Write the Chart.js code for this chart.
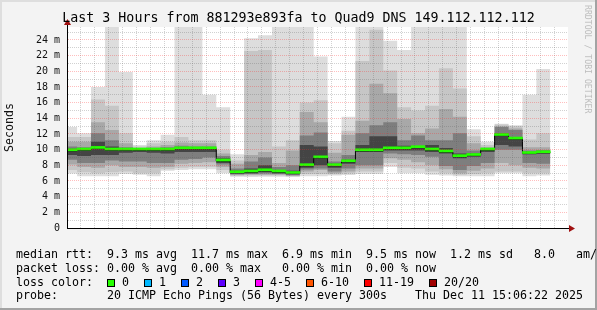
<!DOCTYPE html>
<html>
<head>
<meta charset="utf-8">
<script src="https://cdn.jsdelivr.net/npm/chart.js@4.4.0/dist/chart.umd.min.js"></script>
<style>
  html, body { margin: 0; padding: 0; background: #fff; }
  #frame {
    position: relative; width: 597px; height: 310px; overflow: hidden;
    background: #f3f3f3;
    box-shadow: inset -2px -2px 0 #a3a3a3, inset 2px 2px 0 #dedede;
    font-family: "DejaVu Sans Mono", monospace; color: #000;
  }
  #chart { position: absolute; left: 0; top: 0; }
  #title { position: absolute; left: 0; top: 10px; width: 597px; text-align: center; font-size: 13.3px; line-height: 16px; white-space: pre; }
  #brand { position: absolute; left: 593px; top: 5px; transform-origin: 0 0; transform: rotate(90deg); font-size: 8.2px; color: #bdbdbd; white-space: pre; }
  #legend { position: absolute; left: 16px; top: 248px; font-size: 11.63px; line-height: 13.8px; white-space: pre; }
  .box { display: inline-block; width: 6px; height: 6px; border: 1px solid #000; margin-right: 7px; vertical-align: -1px; }
  .lbl { margin-right: 15px; }
</style>
</head>
<body>
<div id="frame">
  <canvas id="chart" width="597" height="310"></canvas>
  <div id="title">Last 3 Hours from 881293e893fa to Quad9 DNS 149.112.112.112</div>
  <div id="brand">RRDTOOL / TOBI OETIKER</div>
  <div id="legend"></div>
</div>
<script>
// 5 minute steps, each value covers the 5 minutes before its end time
const barEnds = ['12:10','12:15','12:20','12:25','12:30','12:35','12:40','12:45','12:50','12:55',
  '13:00','13:05','13:10','13:15','13:20','13:25','13:30','13:35','13:40','13:45','13:50','13:55',
  '14:00','14:05','14:10','14:15','14:20','14:25','14:30','14:35','14:40','14:45','14:50','14:55','15:00'];

// smoke bands (ms), outermost pair first
const pingMax = [12.9, 12.1, 18.0, 25.7, 19.9, 10.6, 11.2, 11.9, 25.7, 25.7, 17.0, 15.4, 9.4, 24.2, 24.6, 25.7, 25.7, 25.7,
  21.9, 11.1, 14.2, 25.7, 25.7, 23.9, 22.7, 25.7, 25.7, 25.7, 25.7, 12.6, 11.0, 13.3, 13.1, 17.0, 20.3];
const pingHi2 = [11.6, 11.6, 16.4, 15.6, 12.1, 10.4, 10.8, 11.0, 11.6, 11.2, 11.2, 10.0, 8.6, 22.6, 22.7, 10.4, 11.2, 16.0,
  16.3, 10.8, 12.4, 21.3, 25.3, 20.1, 15.4, 15.0, 15.6, 20.4, 17.8, 11.7, 10.6, 13.2, 13.0, 11.3, 12.1];
const pingHi3 = [11.0, 11.0, 13.5, 12.5, 10.8, 10.2, 10.4, 10.6, 10.9, 10.8, 10.8, 9.5, 8.2, 9.3, 9.7, 8.3, 9.9, 14.8,
  13.5, 9.6, 11.9, 13.7, 18.4, 17.2, 13.9, 12.1, 12.7, 15.2, 14.2, 10.8, 10.3, 13.0, 12.7, 10.3, 10.3];
const pingHi4 = [10.4, 10.3, 12.1, 11.2, 10.3, 10.05, 10.2, 10.3, 10.5, 10.4, 10.4, 9.2, 7.6, 8.5, 9.0, 7.8, 8.0, 11.8,
  12.2, 8.5, 9.3, 12.1, 13.1, 13.5, 11.2, 11.8, 11.2, 11.2, 12.1, 9.9, 10.1, 12.9, 12.5, 9.9, 9.96];
const pingHi5 = [10.1, 10.1, 11.0, 10.4, 10.1, 10.0, 10.0, 10.1, 10.2, 10.2, 10.2, 8.9, 7.3, 7.6, 8.0, 7.4, 7.3, 10.6,
  10.4, 8.2, 8.7, 10.6, 11.7, 11.7, 10.5, 10.4, 10.6, 10.2, 9.5, 9.5, 10.0, 12.1, 11.6, 9.6, 9.7];
const medianRtt = [9.85, 9.95, 10.15, 9.95, 9.95, 9.95, 9.95, 9.95, 10.1, 10.1, 10.1, 8.55, 7.05, 7.15, 7.3, 7.15, 6.95, 7.95,
  8.95, 7.95, 8.45, 9.85, 9.85, 10.1, 10.1, 10.25, 9.95, 9.7, 9.1, 9.25, 9.95, 11.8, 11.35, 9.5, 9.6];
const pingLo5 = [9.3, 9.2, 9.3, 9.3, 9.6, 9.7, 9.6, 9.5, 9.7, 9.7, 9.7, 8.3, 6.95, 7.0, 7.1, 7.0, 6.85, 7.7,
  8.0, 7.7, 8.2, 9.7, 9.7, 9.9, 9.9, 9.9, 9.7, 9.5, 8.9, 9.1, 9.7, 10.6, 10.4, 9.4, 9.5];
const pingLo4 = [8.7, 8.3, 8.3, 8.6, 8.5, 8.5, 8.3, 8.3, 8.7, 8.8, 9.0, 8.1, 6.85, 6.9, 6.95, 6.9, 6.75, 7.45,
  7.6, 7.2, 7.6, 8.0, 8.0, 9.5, 9.4, 9.3, 9.1, 7.9, 7.4, 7.9, 8.3, 10.0, 10.0, 8.3, 8.2];
const pingLo3 = [8.1, 7.8, 7.7, 8.0, 7.8, 7.8, 7.7, 7.8, 8.2, 8.3, 8.4, 7.8, 6.75, 6.8, 6.8, 6.8, 6.65, 7.2,
  7.4, 7.0, 7.2, 7.6, 7.6, 8.9, 8.7, 8.4, 8.0, 7.5, 7.0, 7.3, 7.6, 8.3, 8.0, 7.7, 7.6];
const pingLo2 = [7.4, 7.1, 7.0, 7.1, 7.2, 7.0, 7.0, 7.5, 7.7, 7.8, 7.8, 7.4, 6.65, 6.7, 6.7, 6.7, 6.6, 6.9,
  6.9, 6.85, 6.95, 7.2, 7.2, 8.3, 7.7, 7.6, 7.2, 7.0, 6.8, 6.9, 7.0, 7.2, 7.2, 7.0, 7.0];
const pingMin = [6.95, 6.6, 6.6, 6.6, 6.9, 6.8, 6.6, 7.3, 7.4, 7.5, 7.5, 7.0, 6.55, 6.5, 6.55, 6.55, 6.5, 6.6,
  6.6, 6.7, 6.75, 6.9, 6.9, 7.8, 7.0, 7.0, 6.8, 6.7, 6.6, 6.6, 6.6, 7.0, 7.0, 6.6, 6.7];

const lossLabels = ['0', '1', '2', '3', '4-5', '6-10', '11-19', '20/20'];
const lossColors = ['#26ff00', '#00b8ff', '#0059ff', '#5e00ff', '#ff00ff', '#ff5500', '#ff0000', '#a10000'];

const legendLines = [
  'median rtt:  9.3 ms avg  11.7 ms max  6.9 ms min  9.5 ms now  1.2 ms sd   8.0   am/s',
  'packet loss: 0.00 % avg  0.00 % max   0.00 % min  0.00 % now',
  null,
  'probe:       20 ICMP Echo Pings (56 Bytes) every 300s    Thu Dec 11 15:06:22 2025'
];

const startMin = 12 * 60 + 6 + 22 / 60;   // graph window: last 3 hours
const endMin = startMin + 180;

function toMin(s) {
  const p = s.split(':');
  return parseInt(p[0]) * 60 + parseInt(p[1]);
}
function fmtTime(v) {
  const h = Math.floor(v / 60), m = Math.round(v % 60);
  return h + ':' + (m < 10 ? '0' : '') + m;
}

const endX = barEnds.map(toMin);
// step points: a value holds from the start of its 5 minute slot to its end
function steps(values) {
  const pts = values.map((v, i) => ({ x: endX[i] - 5, y: v }));
  pts.push({ x: endX[endX.length - 1], y: values[values.length - 1] });
  return pts;
}

const bands = [
  [pingMax, pingMin, '#dddddd'],
  [pingHi2, pingLo2, '#c6c6c6'],
  [pingHi3, pingLo3, '#a8a8a8'],
  [pingHi4, pingLo4, '#7e7e7e'],
  [pingHi5, pingLo5, '#444444']
];

const datasets = [];
bands.forEach(([hi, lo, color], k) => {
  const idx = datasets.length;
  datasets.push(
    { type: 'line', data: steps(hi), stepped: 'before', borderWidth: 0, pointRadius: 0,
      backgroundColor: color, fill: { target: idx + 1 }, order: 10 - k },
    { type: 'line', data: steps(lo), stepped: 'before', borderWidth: 0, pointRadius: 0,
      fill: false, order: 10 - k }
  );
});
datasets.push(
  { type: 'line', data: steps(medianRtt), stepped: 'before', borderColor: '#000', borderWidth: 1,
    pointRadius: 0, fill: false, order: 2 },
  { type: 'bar', data: medianRtt.map((v, i) => ({ x: endX[i] - 2.5, y: [v, v + 0.26] })),
    backgroundColor: lossColors[0], borderWidth: 0, grouped: false,
    barPercentage: 1, categoryPercentage: 1, order: 1 }
);

const plotFrame = {
  id: 'plotFrame',
  beforeDraw(chart) {
    const { ctx, chartArea: a } = chart;
    ctx.save();
    ctx.fillStyle = '#fff';
    ctx.fillRect(a.left, a.top, a.right - a.left, a.bottom - a.top);
    ctx.restore();
  },
  afterDraw(chart) {
    const { ctx, chartArea: a } = chart;
    const x0 = Math.round(a.left) + 0.5, y0 = Math.round(a.bottom) + 0.5;
    ctx.save();
    ctx.strokeStyle = '#000';
    ctx.lineWidth = 1;
    ctx.beginPath();
    ctx.moveTo(x0, a.top); ctx.lineTo(x0, a.top - 3);
    ctx.moveTo(a.right, y0); ctx.lineTo(a.right + 2, y0);
    ctx.stroke();
    ctx.fillStyle = '#a01010';
    ctx.beginPath();
    ctx.moveTo(x0, a.top - 8); ctx.lineTo(x0 - 3.5, a.top - 2); ctx.lineTo(x0 + 3.5, a.top - 2);
    ctx.closePath(); ctx.fill();
    ctx.beginPath();
    ctx.moveTo(a.right + 7, y0); ctx.lineTo(a.right + 1, y0 - 3.5); ctx.lineTo(a.right + 1, y0 + 3.5);
    ctx.closePath(); ctx.fill();
    ctx.restore();
  }
};

const gridMajor = 'rgba(255, 40, 40, 0.3)';
const gridMinor = 'rgba(90, 90, 90, 0.28)';
const tickFont = { family: 'DejaVu Sans Mono', size: 10 };

new Chart(document.getElementById('chart'), {
  type: 'line',
  data: { datasets: datasets },
  plugins: [plotFrame],
  options: {
    responsive: false,
    devicePixelRatio: 1,
    animation: false,
    events: [],
    layout: { padding: { left: 0, top: 27, right: 29, bottom: 62 } },
    plugins: { legend: { display: false }, tooltip: { enabled: false } },
    scales: {
      x: {
        type: 'linear', min: startMin, max: endMin, offset: false,
        afterFit: s => { s.height = 20; },
        grid: { z: 1, offset: false, drawTicks: false, lineWidth: 1,
          color: c => (c.tick && c.tick.value % 20 === 0) ? gridMajor : gridMinor },
        border: { z: 2, color: '#000', width: 1, dash: [1, 1] },
        ticks: { stepSize: 5, includeBounds: false, autoSkip: false, maxRotation: 0, padding: 4,
          color: '#111', font: tickFont,
          callback: v => v % 20 === 0 ? fmtTime(v) : '' }
      },
      y: {
        type: 'linear', min: 0, max: 25.65,
        afterFit: s => { s.width = 67; },
        grid: { z: 1, drawTicks: false, lineWidth: 1,
          color: c => (c.tick && c.tick.value % 2 === 0) ? gridMajor : gridMinor },
        border: { z: 2, color: '#000', width: 1, dash: [1, 1] },
        ticks: { stepSize: 1, includeBounds: false, autoSkip: false, padding: 7,
          color: '#111', font: tickFont,
          callback: v => v % 2 !== 0 ? '' : (v === 0 ? '0' : v + ' m') },
        title: { display: true, text: 'Seconds', color: '#111',
          font: { family: 'DejaVu Sans Mono', size: 11.6 }, padding: { top: 3, bottom: 0 } }
      }
    }
  }
});

// text legend under the graph
const legendEl = document.getElementById('legend');
legendLines.forEach(line => {
  const row = document.createElement('div');
  if (line === null) {
    row.appendChild(document.createTextNode('loss color:  '));
    lossLabels.forEach((lbl, i) => {
      const b = document.createElement('span');
      b.className = 'box';
      b.style.background = lossColors[i];
      const t = document.createElement('span');
      t.className = 'lbl';
      t.textContent = lbl;
      row.appendChild(b);
      row.appendChild(t);
    });
  } else {
    row.textContent = line;
  }
  legendEl.appendChild(row);
});
</script>
</body>
</html>
